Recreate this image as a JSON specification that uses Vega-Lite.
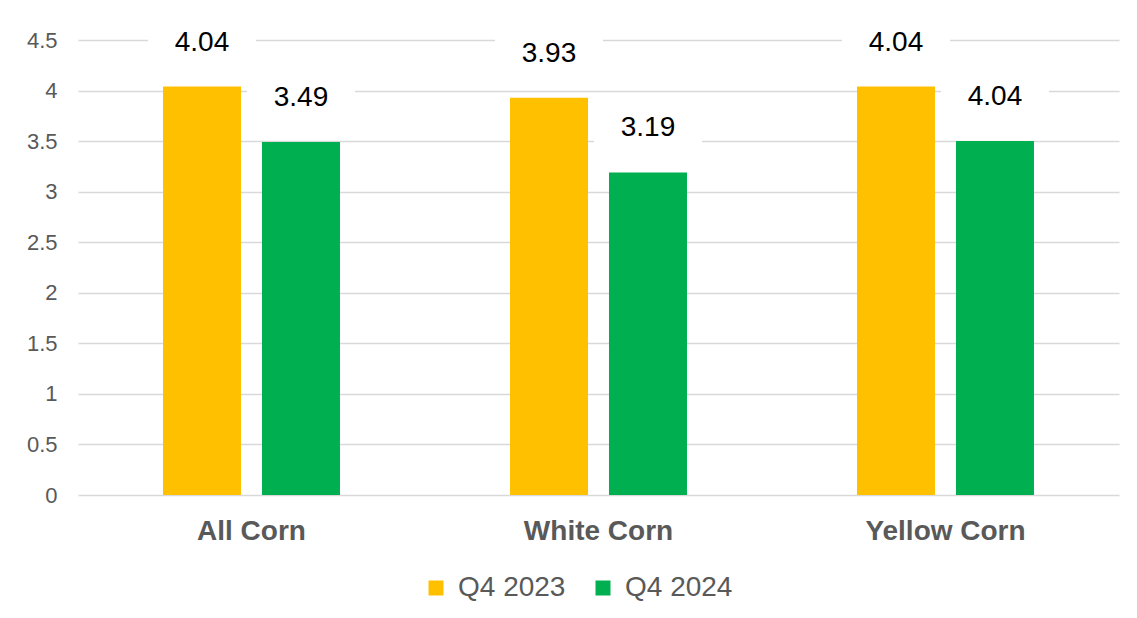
{
  "$schema": "https://vega.github.io/schema/vega-lite/v6.json",
  "width": 1041,
  "height": 455,
  "autosize": {"type": "none"},
  "padding": {"left": 78, "top": 40, "right": 18, "bottom": 123},
  "background": "white",
  "config": {"view": {"stroke": null}, "font": "Liberation Sans"},
  "data": {
    "values": [
      {"category": "All Corn", "series": "Q4 2023", "value": 4.04, "label": "4.04"},
      {"category": "All Corn", "series": "Q4 2024", "value": 3.49, "label": "3.49"},
      {"category": "White Corn", "series": "Q4 2023", "value": 3.93, "label": "3.93"},
      {"category": "White Corn", "series": "Q4 2024", "value": 3.19, "label": "3.19"},
      {"category": "Yellow Corn", "series": "Q4 2023", "value": 4.04, "label": "4.04"},
      {"category": "Yellow Corn", "series": "Q4 2024", "value": 3.50, "label": "4.04"}
    ]
  },
  "encoding": {
    "x": {
      "field": "category",
      "type": "nominal",
      "sort": null,
      "scale": {"paddingInner": 0.49, "paddingOuter": 0.245},
      "axis": {
        "title": null,
        "labelAngle": 0,
        "labelFontSize": 28,
        "labelFontWeight": "bold",
        "labelColor": "#595959",
        "ticks": false,
        "domain": false,
        "grid": false,
        "labelPadding": 22
      }
    },
    "xOffset": {
      "field": "series",
      "type": "nominal",
      "sort": null,
      "scale": {"paddingInner": 0.212, "paddingOuter": 0}
    },
    "y": {
      "field": "value",
      "type": "quantitative",
      "scale": {"domain": [0, 4.5], "nice": false, "zero": true},
      "axis": {
        "title": null,
        "values": [0, 0.5, 1, 1.5, 2, 2.5, 3, 3.5, 4, 4.5],
        "format": "~g",
        "labelFontSize": 22,
        "labelColor": "#595959",
        "ticks": false,
        "domain": false,
        "grid": true,
        "gridColor": "#d9d9d9",
        "gridWidth": 1.5,
        "labelPadding": 21
      }
    }
  },
  "layer": [
    {
      "mark": {"type": "bar"},
      "encoding": {
        "color": {
          "field": "series",
          "type": "nominal",
          "scale": {"domain": ["Q4 2023", "Q4 2024"], "range": ["#FFC000", "#00B050"]},
          "legend": {
            "orient": "none",
            "legendX": 344,
            "legendY": 534,
            "direction": "horizontal",
            "title": null,
            "symbolType": "square",
            "symbolSize": 225,
            "symbolStrokeWidth": 0,
            "labelFontSize": 28,
            "labelColor": "#595959",
            "labelOffset": 8,
            "columnPadding": 23
          }
        }
      }
    },
    {
      "mark": {
        "type": "point",
        "shape": "M-1,-0.63H1V0.63H-1Z",
        "filled": true,
        "fill": "white",
        "opacity": 1,
        "size": 11664,
        "yOffset": -44,
        "strokeWidth": 0
      }
    },
    {
      "mark": {"type": "text", "dy": -44, "fontSize": 28, "color": "#000000", "baseline": "middle"},
      "encoding": {"text": {"field": "label"}}
    }
  ]
}
